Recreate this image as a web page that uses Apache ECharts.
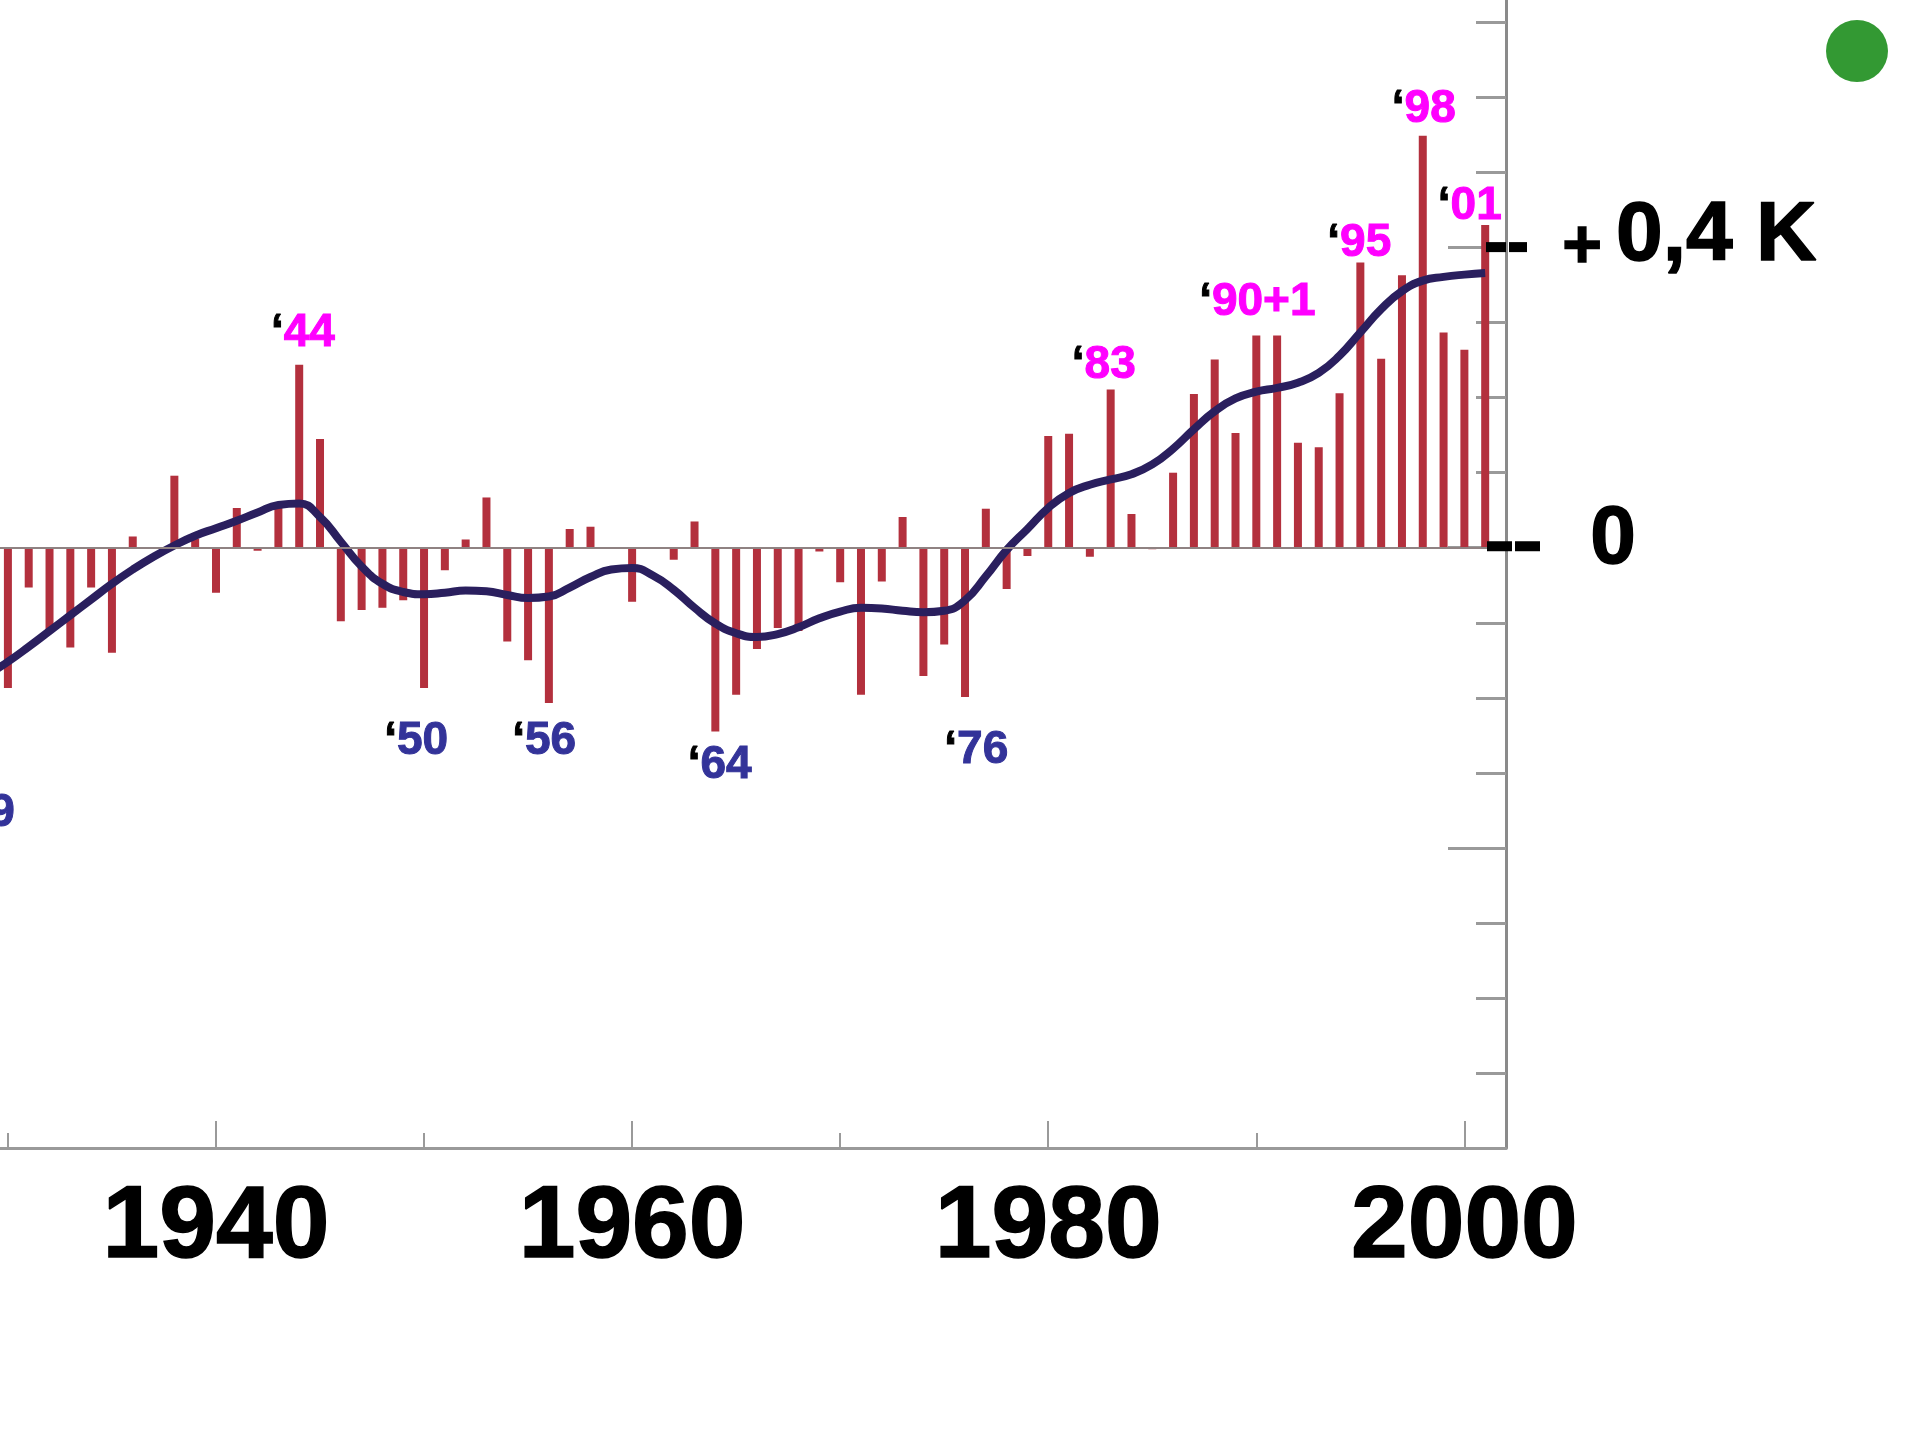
<!DOCTYPE html>
<html><head><meta charset="utf-8">
<script src="https://cdn.jsdelivr.net/npm/echarts@6/dist/echarts.min.js"></script>
<style>html,body{margin:0;padding:0;background:#fff}#c{width:1915px;height:1432px}</style>
</head><body><div id="c"></div>
<script>
// ---- data ----
const years = [1929,1930,1931,1932,1933,1934,1935,1936,1937,1938,1939,
  1940,1941,1942,1943,1944,1945,1946,1947,1948,1949,
  1950,1951,1952,1953,1954,1955,1956,1957,1958,1959,
  1960,1961,1962,1963,1964,1965,1966,1967,1968,1969,
  1970,1971,1972,1973,1974,1975,1976,1977,1978,1979,
  1980,1981,1982,1983,1984,1985,1986,1987,1988,1989,
  1990,1991,1992,1993,1994,1995,1996,1997,1998,1999,
  2000,2001];
const anomaly = [-0.20,-0.187,-0.053,-0.11,-0.133,-0.053,-0.14,0.015,0.0,0.096,0.012,
  -0.06,0.053,-0.004,0.058,0.244,0.145,-0.098,-0.083,-0.08,-0.07,
  -0.187,-0.03,0.011,0.067,-0.125,-0.15,-0.207,0.025,0.028,0.0,
  -0.072,0.0,-0.016,0.035,-0.245,-0.196,-0.135,-0.107,-0.111,-0.005,
  -0.046,-0.196,-0.045,0.041,-0.171,-0.129,-0.199,0.052,-0.055,-0.011,
  0.149,0.152,-0.012,0.211,0.045,-0.002,0.10,0.205,0.251,0.153,
  0.283,0.283,0.14,0.134,0.206,0.38,0.252,0.363,0.549,0.287,
  0.264,0.43];
const trend = [-0.17,-0.152,-0.132,-0.111,-0.09,-0.069,-0.048,-0.029,-0.012,0.003,0.016,
  0.026,0.036,0.047,0.057,0.059,0.041,0.008,-0.025,-0.048,-0.059,
  -0.062,-0.06,-0.057,-0.058,-0.063,-0.067,-0.065,-0.053,-0.039,-0.029,
  -0.027,-0.037,-0.056,-0.08,-0.101,-0.114,-0.119,-0.115,-0.106,-0.094,
  -0.085,-0.08,-0.081,-0.084,-0.086,-0.084,-0.07,-0.038,-0.003,0.025,
  0.053,0.073,0.084,0.091,0.098,0.111,0.132,0.158,0.182,0.199,
  0.208,0.213,0.22,0.233,0.256,0.287,0.318,0.342,0.356,0.361,
  0.364,0.366];
const yearLabels = [1940,1960,1980,2000];
const yearTicksMinor = [1930,1950,1970,1990];
const kTicks = [-0.8,-0.7,-0.6,-0.5,-0.4,-0.3,-0.2,-0.1,0,0.1,0.2,0.3,0.4,0.5,0.6,0.7];
const kTicksLong = [-0.4,0,0.4];
const noteText = ['29','44','50','56','64','76','83','90+1','95','98','01'];
const noteWarm = [false,true,false,false,false,false,true,true,true,true,true];
const noteX = [1928.8,1944.18,1949.62,1955.77,1964.21,1976.54,1982.67,1990.05,1994.95,1998.05,2000.26];
const noteY = [-0.349,0.291,-0.252,-0.252,-0.285,-0.264,0.248,0.333,0.411,0.589,0.461];

// ---- chart ----
const FONT = "'Liberation Sans', Arial, sans-serif";
const chart = echarts.init(document.getElementById('c'), null, {renderer:'canvas'});
const X_MIN = 1929.62, X_MAX = 2002, Y_MIN = -0.8, Y_MAX = 0.73;
const option = {
  animation:false,
  backgroundColor:'#fff',
  grid:{left:0, right:409, top:0, bottom:284, containLabel:false},
  xAxis:[{
    type:'value', min:X_MIN, max:X_MAX, position:'bottom',
    axisLine:{show:true, onZero:false, lineStyle:{color:'#9a9a9a', width:3}},
    axisTick:{show:true, inside:true, length:27, customValues:yearLabels, lineStyle:{color:'#9a9a9a', width:2}},
    axisLabel:{show:true, margin:30, customValues:yearLabels, color:'#000', fontSize:102, fontWeight:'bold', fontFamily:FONT,
      textBorderColor:'#000', textBorderWidth:1.5, formatter:v=>String(v)},
    splitLine:{show:false}
  },{
    type:'value', min:X_MIN, max:X_MAX, position:'bottom',
    axisLine:{show:false, onZero:false},
    axisTick:{show:true, inside:true, length:15, customValues:yearTicksMinor, lineStyle:{color:'#9a9a9a', width:2}},
    axisLabel:{show:false}, splitLine:{show:false}
  }],
  yAxis:[{
    type:'value', min:Y_MIN, max:Y_MAX, position:'right',
    axisLine:{show:true, onZero:false, lineStyle:{color:'#8a8a8a', width:3}},
    axisTick:{show:true, inside:true, length:30, customValues:kTicks, lineStyle:{color:'#9a9a9a', width:3}},
    axisLabel:{show:false}, splitLine:{show:false}
  },{
    type:'value', min:Y_MIN, max:Y_MAX, position:'right',
    axisLine:{show:false, onZero:false},
    axisTick:{show:true, inside:true, length:58, customValues:kTicksLong, lineStyle:{color:'#9a9a9a', width:3}},
    axisLabel:{show:false}, splitLine:{show:false}
  }],
  series:[{
    type:'bar', xAxisIndex:0, yAxisIndex:0, barWidth:8, z:2,
    itemStyle:{color:'#b3303d'},
    data: years.map((y,i)=>[y, anomaly[i]]),
    markLine:{silent:true, symbol:['none','none'], label:{show:false},
      lineStyle:{color:'#8f8282', width:2, type:'solid'}, data:[{yAxis:0}]}
  },{
    type:'line', xAxisIndex:0, yAxisIndex:0, z:3, smooth:0.5, showSymbol:false, symbol:'none',
    lineStyle:{color:'#2a1f5e', width:8},
    data: years.map((y,i)=>[y, trend[i]])
  }]
};
chart.setOption(option);

const y0 = chart.convertToPixel({yAxisIndex:0}, 0);
const y4 = chart.convertToPixel({yAxisIndex:0}, 0.4);
const xr = chart.convertToPixel({xAxisIndex:0}, X_MAX);
const dash = (x1,x2,y)=>({type:'rect', shape:{x:x1, y:y-5, width:x2-x1, height:10}, style:{fill:'#000'}, z:10});
const bigText = (x,y,t,size,align)=>({type:'text', x:x, y:y, z:10,
  style:{text:t, fill:'#000', stroke:'#000', lineWidth:1.5, font:"bold "+size+"px "+FONT, textAlign:align, textVerticalAlign:'middle'}});
const tok = c=>({fill:c, stroke:c, lineWidth:1, fontSize:46, fontWeight:'bold', fontFamily:FONT});
const notes = noteText.map((t,i)=>{
  const p = chart.convertToPixel({xAxisIndex:0, yAxisIndex:0}, [noteX[i], noteY[i]]);
  return {type:'text', x:p[0], y:p[1]+4, z:12, silent:true,
    style:{text:'{q|\u2018}{'+(noteWarm[i]?'w':'c')+'|'+t+'}', align:'center', verticalAlign:'middle',
      rich:{q:tok('#000'), w:tok('#ff00ff'), c:tok('#333399')}}};
});
chart.setOption({graphic:[
  dash(xr-19, xr+6, y0-1.5), dash(xr+9, xr+34, y0-1.5),
  dash(xr-20, xr, y4-0.5), dash(xr+3, xr+21, y4-0.5),
  bigText(xr+107, y0-7, '0', 82, 'center'),
  bigText(xr+76, y4+0.5, '+', 68, 'center'),
  bigText(xr+110, y4-11, '0,4 K', 84, 'left'),
  {type:'circle', shape:{cx:1857, cy:51, r:31}, style:{fill:'#339933'}, z:10}
].concat(notes)});
</script>
</body></html>
